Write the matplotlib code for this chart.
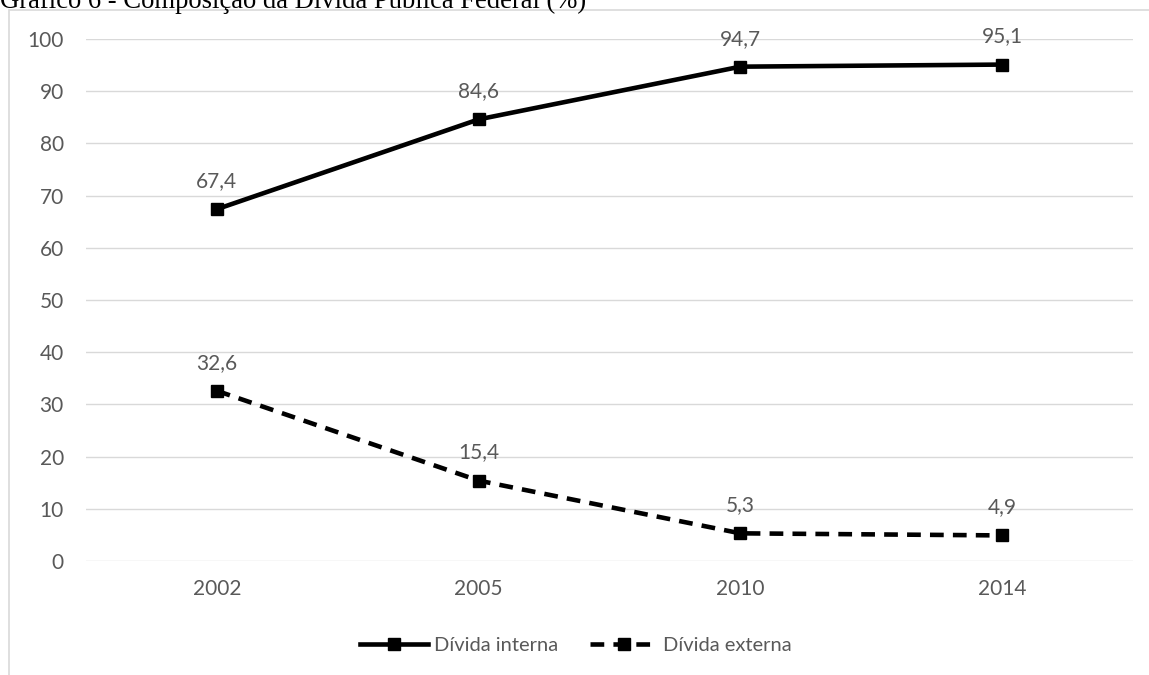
import matplotlib.pyplot as plt
from matplotlib.patches import Rectangle

# Data
anos = ['2002', '2005', '2010', '2014']
divida_interna = [67.4, 84.6, 94.7, 95.1]
divida_externa = [32.6, 15.4, 5.3, 4.9]
titulo = 'Gráfico 6 - Composição da Dívida Pública Federal (%)'

plt.rcParams['font.family'] = ['Lato', 'DejaVu Sans']
cinza = '#595959'

fig = plt.figure(figsize=(11.49, 6.75), dpi=100)
W, H = 1149, 675

# chart frame (cropped on the right and bottom)
fig.patches.append(Rectangle((9 / W, -0.1), 1.2, 1 - 10 / H + 0.1,
                             transform=fig.transFigure, fill=False,
                             edgecolor='#d9d9d9', linewidth=1.2))

# title, partially cut at the top edge
fig.text(0, 1 - 8 / H, titulo, family='Liberation Serif', fontsize=19.2,
         color='black', ha='left', va='baseline')

ax = fig.add_axes([86 / W, 1 - 561 / H, (1133 - 86) / W, (561 - 39) / H])
x = range(len(anos))

ax.plot(x, divida_interna, color='black', linewidth=3.3, marker='s',
        markersize=9, label='Dívida interna')
ax.plot(x, divida_externa, color='black', linewidth=3.3, marker='s',
        markersize=9, linestyle=(0, (3, 2)), label='Dívida externa')

for serie in (divida_interna, divida_externa):
    for i, v in enumerate(serie):
        ax.annotate(f'{v:.1f}'.replace('.', ','), (i, v), xytext=(0, 13),
                    textcoords='offset points', ha='center', va='bottom',
                    fontsize=15, color=cinza)

ax.set_xlim(-0.5, len(anos) - 0.5)
ax.set_ylim(0, 100)
ax.set_xticks(list(x))
ax.set_xticklabels(anos)
ax.set_yticks(range(0, 101, 10))
ax.tick_params(axis='both', length=0, labelsize=15, colors=cinza)
ax.tick_params(axis='y', pad=16)
ax.tick_params(axis='x', pad=13)
ax.grid(axis='y', color='#d9d9d9', linewidth=1)
ax.set_axisbelow(True)
for s in ax.spines.values():
    s.set_visible(False)

fig.legend(*ax.get_legend_handles_labels(), loc='center',
           bbox_to_anchor=(576 / W, 1 - 645 / H), ncol=2, frameon=False,
           fontsize=14.5, labelcolor=cinza, handlelength=3.4,
           handletextpad=0.25, columnspacing=1.6)

fig.savefig('out.png', dpi=100)
